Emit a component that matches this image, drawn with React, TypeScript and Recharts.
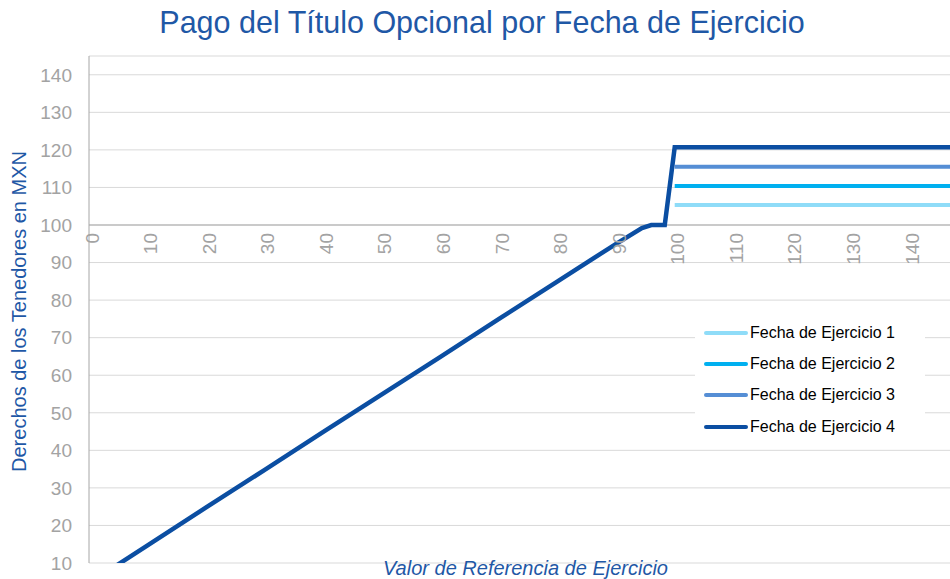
import React from "react";
import {
  LineChart,
  Line,
  XAxis,
  YAxis,
  CartesianGrid,
  ReferenceLine,
  ReferenceDot,
  Legend,
} from "recharts";

// Fecha de Ejercicio 4: the full payoff curve
const valorReferencia4 = [0, 10, 20, 30, 40, 50, 60, 70, 80, 90, 94.4, 96, 98.3, 100, 150];
const derechosFecha4 = [4.6, 14.7, 24.8, 34.8, 44.9, 54.9, 64.9, 75, 85, 95, 99.2, 100, 100, 120.7, 120.7];

// Fechas 1-3 only above the reference value of 100
const valorReferenciaFechas = [100, 150];
const derechosFecha1 = [105.3, 105.3];
const derechosFecha2 = [110.4, 110.4];
const derechosFecha3 = [115.5, 115.5];

const yTicks = [10, 20, 30, 40, 50, 60, 70, 80, 90, 100, 110, 120, 130, 140];
const xTicks = [0, 10, 20, 30, 40, 50, 60, 70, 80, 90, 100, 110, 120, 130, 140];

const toPoints = (xs: number[], ys: number[]) => xs.map((x, i) => ({ x, y: ys[i] }));

const FONT = '"Liberation Sans", Arial, sans-serif';
const BLUE = "#1F58A6";
const GRAY_TEXT = "#A3A3A3";

const series = [
  { name: "Fecha de Ejercicio 1", color: "#8FDCF8", data: toPoints(valorReferenciaFechas, derechosFecha1), width: 4 },
  { name: "Fecha de Ejercicio 2", color: "#00B0F0", data: toPoints(valorReferenciaFechas, derechosFecha2), width: 4 },
  { name: "Fecha de Ejercicio 3", color: "#558ED5", data: toPoints(valorReferenciaFechas, derechosFecha3), width: 4 },
  { name: "Fecha de Ejercicio 4", color: "#0B4EA2", data: toPoints(valorReferencia4, derechosFecha4), width: 4.5 },
];

const XTickLabel = (props: any) => {
  const { viewBox, value } = props;
  const cx = viewBox.x + viewBox.width / 2 + 3;
  const cy = viewBox.y + viewBox.height / 2 + 8;
  return (
    <text
      x={cx}
      y={cy}
      transform={`rotate(-90 ${cx} ${cy})`}
      textAnchor="end"
      dominantBaseline="central"
      fill={GRAY_TEXT}
      fontSize={19}
      fontFamily={FONT}
    >
      {value}
    </text>
  );
};

const YAxisTitle = (props: any) => {
  const { viewBox } = props;
  const cx = viewBox.x + 19;
  const cy = viewBox.y + viewBox.height / 2 + 2;
  return (
    <text
      x={cx}
      y={cy}
      transform={`rotate(-90 ${cx} ${cy})`}
      textAnchor="middle"
      dominantBaseline="central"
      fill={BLUE}
      fontSize={20}
      fontFamily={FONT}
    >
      Derechos de los Tenedores en MXN
    </text>
  );
};

const XAxisTitle = (props: any) => {
  const { viewBox } = props;
  return (
    <text
      x={viewBox.x + viewBox.width / 2 + 6}
      y={viewBox.y + 12}
      textAnchor="middle"
      fill={BLUE}
      fontSize={20}
      fontStyle="italic"
      fontFamily={FONT}
    >
      Valor de Referencia de Ejercicio
    </text>
  );
};

const LegendBox = (props: any) => {
  const { payload } = props;
  return (
    <div style={{ background: "#fff", padding: "4px 0 4px 9px", fontFamily: FONT }}>
      {(payload || []).map((entry: any) => (
        <div key={entry.value} style={{ display: "flex", alignItems: "center", height: 31.4 }}>
          <span
            style={{
              display: "inline-block",
              width: 44,
              height: 4,
              borderRadius: 2,
              background: entry.color,
              marginRight: 2,
            }}
          />
          <span style={{ fontSize: 16, color: "#000" }}>{entry.value}</span>
        </div>
      ))}
    </div>
  );
};

export default function App() {
  return (
    <div style={{ position: "absolute", left: 0, top: 0, width: 950, height: 579, background: "#fff" }}>
      <div
        style={{
          position: "absolute",
          left: 7,
          top: 7,
          width: 950,
          textAlign: "center",
          fontFamily: FONT,
          fontSize: 30.5,
          lineHeight: "30px",
          color: BLUE,
        }}
      >
        Pago del Título Opcional por Fecha de Ejercicio
      </div>
      <LineChart width={950} height={579} margin={{ top: 56, right: 0, bottom: 0, left: 0 }}>
        <CartesianGrid vertical={false} stroke="#D9D9D9" />
        <XAxis
          type="number"
          dataKey="x"
          domain={[0, 147]}
          allowDataOverflow
          ticks={xTicks}
          tick={false}
          tickLine={false}
          axisLine={false}
          height={16}
          label={{ content: XAxisTitle }}
        />
        <YAxis
          type="number"
          dataKey="y"
          domain={[10, 145]}
          allowDataOverflow
          ticks={yTicks}
          interval={0}
          width={89}
          tickLine={false}
          tickSize={6}
          tickMargin={11}
          axisLine={{ stroke: "#A6A6A6" }}
          tick={{ fill: GRAY_TEXT, fontSize: 19, fontFamily: FONT }}
          label={{ content: YAxisTitle }}
        />
        <ReferenceLine y={100} stroke="#BFBFBF" strokeWidth={1.5} />
        {xTicks.map((t) => (
          <ReferenceDot
            key={t}
            x={t}
            y={100}
            r={0}
            fill="none"
            stroke="none"
            label={{ value: t, content: XTickLabel }}
          />
        ))}
        {series.map((s) => (
          <Line
            key={s.name}
            data={s.data}
            dataKey="y"
            name={s.name}
            type="linear"
            stroke={s.color}
            strokeWidth={s.width}
            dot={false}
            activeDot={false}
            isAnimationActive={false}
          />
        ))}
        <Legend
          layout="vertical"
          align="center"
          verticalAlign="middle"
          content={LegendBox}
          wrapperStyle={{ left: 695, top: 313, width: 230 }}
        />
      </LineChart>
    </div>
  );
}
